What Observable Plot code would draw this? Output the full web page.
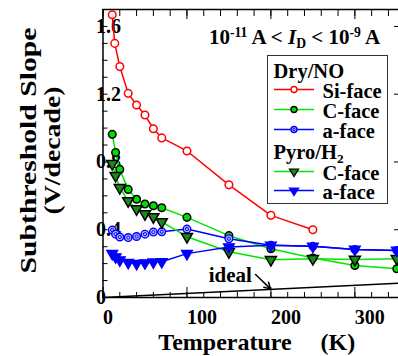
<!DOCTYPE html>
<html>
<head>
<meta charset="utf-8">
<script src="https://cdn.jsdelivr.net/npm/d3@7"></script>
<script src="https://cdn.jsdelivr.net/npm/@observablehq/plot@0.6"></script>
<style>
  body { margin: 0; background: #fff; }
  #wrap { position: relative; width: 398px; height: 356px; overflow: hidden;
          font-family: "Liberation Serif", "Times New Roman", serif; font-weight: bold; color: #000; }
  #title { position: absolute; left: 209px; top: 27px; font-size: 21px; line-height: 21px; white-space: nowrap; }
  .sup { position: relative; top: -0.5em; font-size: 0.65em; }
  .sub { position: relative; top: 0.3em; font-size: 0.65em; }
  #legend { position: absolute; left: 267px; top: 55px; width: 121px; height: 149px; box-sizing: border-box;
            border: 1.5px solid #333; background: #fff; }
  .row { position: absolute; height: 18px; line-height: 18px; font-size: 20.5px; white-space: nowrap; }
  .sw { position: absolute; width: 40px; height: 12px; overflow: visible; }
</style>
</head>
<body>
<div id="wrap">
  <div id="chart"></div>
  <div id="title">10<span class="sup">-11</span> A &lt; <i>I</i><span class="sub">D</span> &lt; 10<span class="sup">-9</span> A</div>
  <div id="legend"></div>
</div>
<script>
// ---- data ----
const tempSi   = [11, 14, 20, 30, 40, 50, 60, 70, 100, 150, 200, 250];
const dryNoSi  = [1.669, 1.500, 1.363, 1.205, 1.136, 1.077, 0.996, 0.942, 0.865, 0.665, 0.485, 0.400];
const tempAll  = [11, 15, 20, 30, 40, 50, 60, 70, 100, 150, 200, 250, 300, 350];
const dryNoC   = [0.963, 0.856, 0.756, 0.638, 0.580, 0.552, 0.542, 0.530, 0.473, 0.365, 0.288, 0.233, 0.189, 0.170];
const dryNoA   = [0.398, 0.374, 0.357, 0.354, 0.360, 0.374, 0.386, 0.388, 0.404, 0.347, 0.308, 0.302, 0.284, 0.278];
const pyroC    = [0.790, 0.719, 0.648, 0.570, 0.523, 0.493, 0.476, 0.446, 0.359, 0.270, 0.223, 0.229, 0.225, 0.229];
const pyroA    = [0.259, 0.239, 0.221, 0.206, 0.200, 0.204, 0.209, 0.211, 0.259, 0.298, 0.308, 0.302, 0.284, 0.278];
const idealT   = [0, 352];
const idealV   = [0, 0.084];
const idealLabel = [{T: 126, V: 0.13, text: "ideal"}];
const idealArrow = [{x1: 181.7, y1: 0.136, x2: 199.5, y2: 0.051}];
const xMajor = [0, 100, 200, 300];
const xMinor = [0, 20, 40, 60, 80, 100, 120, 140, 160, 180, 200, 220, 240, 260, 280, 300, 320, 340];
const yMajor = [0, 0.4, 0.8, 1.2, 1.6];
const yMinor = [0, 0.1, 0.2, 0.3, 0.4, 0.5, 0.6, 0.7, 0.8, 0.9, 1.0, 1.1, 1.2, 1.3, 1.4, 1.5, 1.6, 1.7];
const xTitle = "Temperature\u2002\u2002\u2009(K)";
const yTitle1 = "Subthreshold Slope";
const yTitle2 = "(V/decade)";

const rows = (ts, vs) => ts.map((T, i) => ({T, V: vs[i]}));
const siRows = rows(tempSi, dryNoSi);
const dcRows = rows(tempAll, dryNoC);
const daRows = rows(tempAll, dryNoA);
const pcRows = rows(tempAll, pyroC);
const paRows = rows(tempAll, pyroA);
const idealRows = rows(idealT, idealV);

const RED = "#ff0000", GREEN = "#00e600", BLUE = "#0000ff", DKGREEN = "#1a8a1a";

const triangleDown = {
  draw(ctx, size) {
    const s = Math.sqrt(size * 4 / Math.sqrt(3));
    const h = s * Math.sqrt(3) / 2;
    ctx.moveTo(-s / 2, -h / 3);
    ctx.lineTo(s / 2, -h / 3);
    ctx.lineTo(0, 2 * h / 3);
    ctx.closePath();
  }
};

const fmtY = d => d === 0 ? "0" : d3.format(".1f")(d);

const chart = Plot.plot({
  width: 398,
  height: 356,
  marginLeft: 102.5,
  marginRight: 0,
  marginTop: 9,
  marginBottom: 59,
  style: {fontFamily: "'Liberation Serif', 'Times New Roman', serif", fontSize: "20px", background: "white", color: "black"},
  x: {domain: [0, 352]},
  y: {domain: [0, 1.7]},
  marks: [
    // frame lines
    Plot.ruleY([0], {strokeWidth: 1.5}),
    Plot.ruleY([1.7], {strokeWidth: 1.5}),
    Plot.ruleX([0], {strokeWidth: 1.5}),
    // inward ticks
    Plot.axisX({anchor: "bottom", ticks: xMinor, tickSize: 5, dy: -5, fill: "none", label: null}),
    Plot.axisX({anchor: "bottom", ticks: xMajor, tickSize: 10, dy: -10, fill: "none", label: null}),
    Plot.axisX({anchor: "top", ticks: xMinor, tickSize: 6, dy: 6, fill: "none", label: null}),
    Plot.axisX({anchor: "top", ticks: xMajor, tickSize: 9, dy: 9, fill: "none", label: null}),
    Plot.axisY({anchor: "left", ticks: yMinor, tickSize: 5, dx: 5, fill: "none", label: null}),
    Plot.axisY({anchor: "right", ticks: yMajor, tickSize: 5, dx: -5, fill: "none", label: null}),
    // tick labels
    Plot.axisX({anchor: "bottom", ticks: xMajor, tickSize: 0, tickPadding: 12, textAnchor: "start",
                fontSize: 20, fontWeight: "bold", label: null, tickFormat: d => String(d)}),
    Plot.axisY({anchor: "left", ticks: yMajor, tickSize: 0, tickPadding: 7, textAnchor: "start",
                fontSize: 20, fontWeight: "bold", label: null, tickFormat: fmtY}),
    // axis titles
    Plot.text([xTitle], {frameAnchor: "bottom", text: d => d, lineAnchor: "middle", textAnchor: "middle",
                         dy: 45, dx: 6, fontSize: 24, fontWeight: "bold"}),
    Plot.text([yTitle1], {frameAnchor: "left", text: d => d, rotate: -90, lineAnchor: "middle", textAnchor: "middle",
                          dx: -74.5, dy: -3, fontSize: 24, fontWeight: "bold"}),
    Plot.text([yTitle2], {frameAnchor: "left", text: d => d, rotate: -90, lineAnchor: "middle", textAnchor: "middle",
                          dx: -50.5, dy: -3, fontSize: 24, fontWeight: "bold"}),
    // ideal line + annotation
    Plot.line(idealRows, {x: "T", y: "V", stroke: "black", strokeWidth: 1.5}),
    Plot.text(idealLabel, {x: "T", y: "V", text: "text", textAnchor: "start", fontSize: 21, fontWeight: "bold"}),
    Plot.arrow(idealArrow, {x1: "x1", y1: "y1", x2: "x2", y2: "y2", stroke: "black", strokeWidth: 1.5, headLength: 8}),
    // Dry/NO Si-face
    Plot.line(siRows, {x: "T", y: "V", stroke: RED, strokeWidth: 1.5}),
    Plot.dot(siRows, {x: "T", y: "V", r: 3.8, stroke: RED, fill: "white", strokeWidth: 1.5}),
    // Dry/NO C-face
    Plot.line(dcRows, {x: "T", y: "V", stroke: GREEN, strokeWidth: 1.5}),
    Plot.dot(dcRows, {x: "T", y: "V", r: 3.8, stroke: "black", fill: "#00dd00", strokeWidth: 1.5}),
    // Dry/NO a-face
    Plot.line(daRows, {x: "T", y: "V", stroke: BLUE, strokeWidth: 1.5}),
    Plot.dot(daRows, {x: "T", y: "V", r: 3.8, stroke: BLUE, fill: "#b8b8ff", strokeWidth: 1.4}),
    Plot.dot(daRows, {x: "T", y: "V", r: 1.6, stroke: BLUE, fill: "none", strokeWidth: 1}),
    // Pyro/H2 C-face
    Plot.line(pcRows, {x: "T", y: "V", stroke: GREEN, strokeWidth: 1.5}),
    Plot.dot(pcRows, {x: "T", y: "V", r: 4.1, symbol: triangleDown, stroke: "black", fill: DKGREEN, strokeWidth: 1.5}),
    // Pyro/H2 a-face
    Plot.line(paRows, {x: "T", y: "V", stroke: BLUE, strokeWidth: 1.5}),
    Plot.dot(paRows, {x: "T", y: "V", r: 4.1, symbol: triangleDown, stroke: BLUE, fill: BLUE, strokeWidth: 1.2})
  ]
});

chart.querySelectorAll("text").forEach(t => {
  if (t.textContent === yTitle1) { t.setAttribute("textLength", 246); t.setAttribute("lengthAdjust", "spacingAndGlyphs"); }
  if (t.textContent === yTitle2) { t.setAttribute("textLength", 128); t.setAttribute("lengthAdjust", "spacingAndGlyphs"); }
});
document.getElementById("chart").appendChild(chart);

// ---- legend ----
const legendHeaders = [{html: "Dry/NO", cy: 16.5}, {html: "Pyro/H<span class=\"sub\">2</span>", cy: 97.5}];
const legendItems = [
  {label: "Si-face", cy: 36.5, line: RED, mark: "circle", fill: "white", stroke: RED},
  {label: "C-face",  cy: 56.5, line: GREEN, mark: "circle", fill: "#00dd00", stroke: "black"},
  {label: "a-face",  cy: 76.5, line: BLUE, mark: "circle2", fill: "#b8b8ff", stroke: BLUE},
  {label: "C-face",  cy: 118, line: GREEN, mark: "tri", fill: DKGREEN, stroke: "black"},
  {label: "a-face",  cy: 137.5, line: BLUE, mark: "tri", fill: BLUE, stroke: BLUE}
];
const legend = document.getElementById("legend");
const B = 1.5;
legendHeaders.forEach(h => {
  const d = document.createElement("div");
  d.className = "row";
  d.style.left = (7 - B) + "px";
  d.style.top = (h.cy - 9 - B) + "px";
  d.innerHTML = h.html;
  legend.appendChild(d);
});
legendItems.forEach(it => {
  let m;
  if (it.mark === "tri") {
    m = `<path d="M15.5,3.2 L24.5,3.2 L20,10.5 Z" fill="${it.fill}" stroke="${it.stroke}" stroke-width="1.3"/>`;
  } else {
    m = `<circle cx="20" cy="5.5" r="3" fill="${it.fill}" stroke="${it.stroke}" stroke-width="1.4"/>`;
    if (it.mark === "circle2") m += `<circle cx="20" cy="5.5" r="1.2" fill="none" stroke="${it.stroke}" stroke-width="0.9"/>`;
  }
  const s = document.createElement("div");
  s.innerHTML = `<svg class="sw" width="40" height="12" style="position:absolute;left:${7 - B}px;top:${it.cy - 7 - B}px"><line x1="0" x2="40" y1="5.5" y2="5.5" stroke="${it.line}" stroke-width="1.5"/>${m}</svg>`;
  legend.appendChild(s.firstChild);
  const d = document.createElement("div");
  d.className = "row";
  d.style.left = (56 - B) + "px";
  d.style.top = (it.cy - 9 - B) + "px";
  d.textContent = it.label;
  legend.appendChild(d);
});
</script>
</body>
</html>
